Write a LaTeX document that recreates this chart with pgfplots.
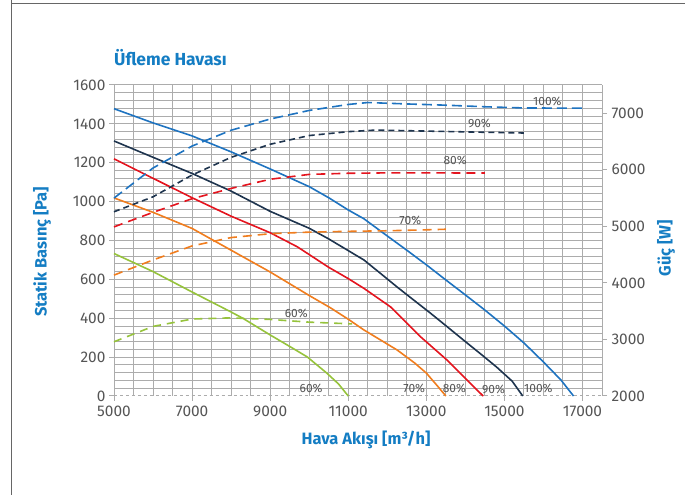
\documentclass[border=0pt]{standalone}
\usepackage{pgfplots}
\pgfplotsset{compat=1.18}
\usepackage{fontspec}
\setmainfont{Fira Sans}

\definecolor{ttl}{RGB}{20,125,195}
\definecolor{c100}{RGB}{30,115,192}
\definecolor{c90}{RGB}{30,52,78}
\definecolor{c80}{RGB}{228,20,30}
\definecolor{c70}{RGB}{240,125,30}
\definecolor{c60}{RGB}{150,195,60}
\definecolor{gridc}{RGB}{172,172,172}
\definecolor{tickc}{RGB}{85,85,85}

\pgfplotsset{
  base/.style={
    scale only axis, width=488bp, height=311bp,
    at={(114bp,99bp)}, anchor=south west,
    xmin=5000, xmax=17500,
    scaled x ticks=false, scaled y ticks=false,
    /pgf/number format/1000 sep={},
    /pgf/number format/assume math mode=true,
    ticklabel style={font=\fontsize{15.5}{15.5}\selectfont, text=tickc},
    tick align=outside, major tick length=5bp, minor tick length=0pt,
    tick style={gridc, line width=1bp},
    clip=false,
  },
}
\tikzset{pct/.style={font=\fontsize{12}{12}\selectfont, text=tickc, inner sep=0pt}}

\begin{document}
\begin{tikzpicture}
\path[use as bounding box] (0,0) rectangle (685bp,495bp);
\draw[line width=1bp, black!60] (11bp,500bp) -- (11bp,-5bp);
\draw[line width=1bp, black!60] (11bp,491bp) -- (690bp,491bp);

\begin{axis}[base,
  ymin=0, ymax=1600,
  axis x line*=bottom, axis y line*=left,
  x axis line style={gridc, dashed, line width=1bp},
  y axis line style={gridc, line width=1bp},
  xtick={5000,7000,...,17000},
  minor xtick={5000,5500,...,17500},
  ytick={0,200,...,1600},
  minor ytick={40,80,...,1600},
  xmajorgrids, xminorgrids, yminorgrids,
  major grid style={gridc, line width=1bp},
  minor grid style={gridc, line width=1bp},
  xticklabel style={yshift=-1bp},
]
% 100%
\addplot[c100, line width=1.6bp] coordinates {(5000,1478)(6000,1405)(7000,1338)(8000,1256)(9000,1168)(10000,1077)(10500,1020)(11000,957)(11400,912)(11900,838)(12500,750)(13000,675)(13500,597)(14000,520)(14500,442)(15000,360)(15500,273)(16000,175)(16450,82)(16770,0)};
% 90%
\addplot[c90, line width=1.6bp] coordinates {(5000,1312)(6000,1228)(7000,1145)(8000,1054)(9000,950)(10000,863)(10500,808)(11000,748)(11400,700)(11800,635)(12250,561)(12700,490)(13100,427)(13500,362)(13950,288)(14400,215)(14800,149)(15200,76)(15470,0)};
% 80%
\addplot[c80, line width=1.6bp] coordinates {(5000,1220)(6000,1120)(7000,1020)(8000,925)(9000,840)(9700,767)(10500,662)(11000,604)(11400,554)(12080,459)(12850,305)(13530,185)(14430,5)(14460,0)};
% 70%
\addplot[c70, line width=1.6bp] coordinates {(5000,1019)(6000,945)(7000,862)(8000,750)(9000,638)(10000,517)(10550,453)(11000,395)(11400,340)(12250,237)(12700,170)(13000,118)(13300,48)(13500,0)};
% 60%
\addplot[c60, line width=1.6bp] coordinates {(5000,733)(6000,640)(7000,535)(8000,432)(8300,400)(9000,314)(9500,255)(9950,201)(10450,118)(10750,62)(11000,0)};

\node[pct] at (axis cs:16100,1517) {100\%};
\node[pct] at (axis cs:14360,1404) {90\%};
\node[pct] at (axis cs:13740,1214) {80\%};
\node[pct] at (axis cs:12590,905) {70\%};
\node[pct] at (axis cs:9670,427) {60\%};
\node[pct] at (axis cs:10050,40) {60\%};
\node[pct] at (axis cs:12690,38) {70\%};
\node[pct] at (axis cs:13720,38) {80\%};
\node[pct] at (axis cs:14720,36) {90\%};
\node[pct] at (axis cs:15870,38) {100\%};
\end{axis}

\begin{axis}[base,
  ymin=2000, ymax=7500,
  axis x line=none, axis y line*=right,
  y axis line style={gridc, line width=1bp},
  ytick={2000,3000,...,7000},
  yticklabel style={xshift=1bp},
]
\addplot[c100, line width=1.6bp, dash pattern=on 10bp off 5bp] coordinates {(5000,5500)(6000,6032)(7000,6420)(8000,6700)(9000,6898)(10000,7050)(11000,7156)(11500,7190)(12500,7165)(13500,7143)(14500,7115)(15500,7094)(16500,7091)(17000,7091)};
\addplot[c90, line width=1.6bp, dash pattern=on 6bp off 4bp] coordinates {(5000,5258)(6000,5523)(7000,5908)(8000,6221)(9000,6452)(10000,6606)(11000,6675)(11700,6703)(13000,6685)(14200,6668)(15500,6651)};
\addplot[c80, line width=1.6bp, dash pattern=on 9bp off 6bp] coordinates {(5000,4991)(6000,5248)(7000,5489)(8000,5671)(9000,5833)(10000,5919)(11000,5939)(12000,5946)(13000,5946)(14500,5943)};
\addplot[c70, line width=1.6bp, dash pattern=on 9bp off 6bp] coordinates {(5000,4138)(6000,4406)(7000,4654)(8000,4802)(9000,4870)(10000,4898)(11000,4912)(12000,4922)(13000,4939)(13500,4949)};
\addplot[c60, line width=1.6bp, dash pattern=on 8bp off 6bp] coordinates {(5000,2959)(6000,3231)(7000,3361)(8000,3382)(9000,3354)(10000,3306)(11100,3275)};
\end{axis}

\node[anchor=west, text=ttl, font=\fontsize{17.5}{17.5}\selectfont\bfseries, inner sep=0pt] at (114bp,437bp) {Üfleme Havası};
\node[rotate=90, text=ttl, font=\fontsize{16.5}{16.5}\selectfont\bfseries, inner sep=0pt] at (42bp,243bp) {Statik Basınç [Pa]};
\node[rotate=90, text=ttl, font=\fontsize{16.5}{16.5}\selectfont\bfseries, inner sep=0pt] at (666bp,247bp) {Güç [W]};
\node[text=ttl, font=\fontsize{16.5}{16.5}\selectfont\bfseries, inner sep=0pt] at (366bp,55bp) {Hava Akışı [m³/h]};
\end{tikzpicture}
\end{document}
